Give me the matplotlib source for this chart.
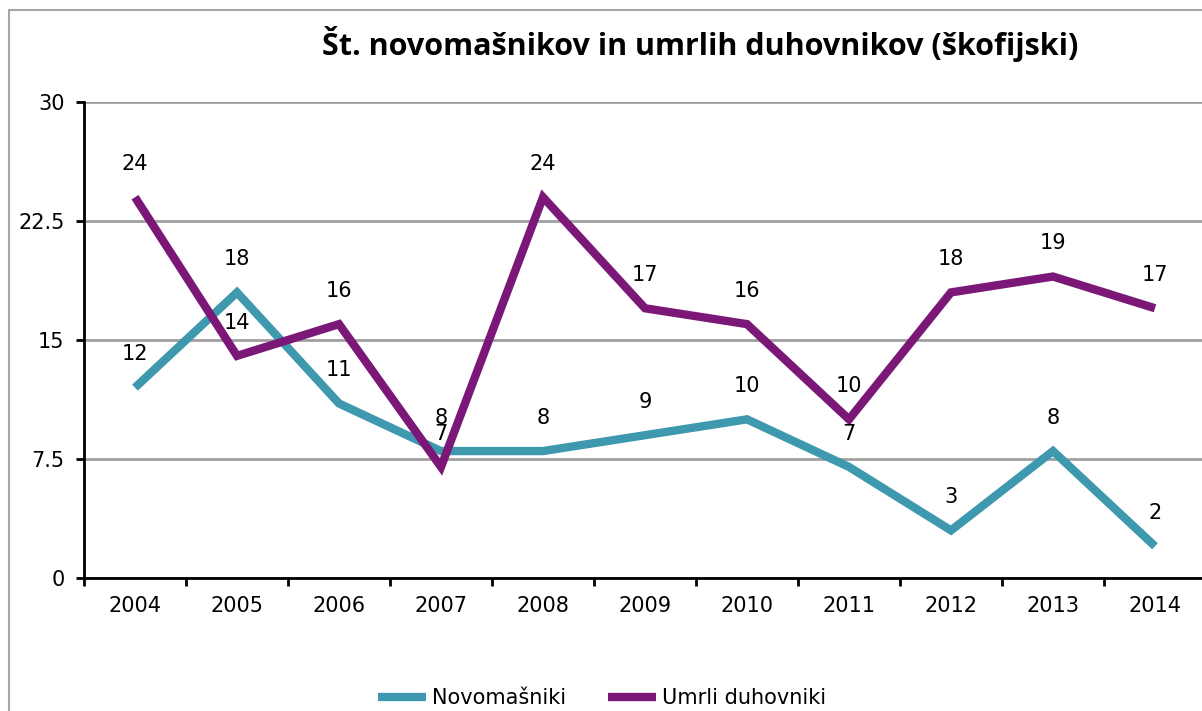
import matplotlib.pyplot as plt
import numpy as np
from matplotlib.patches import Rectangle

years = ["2004", "2005", "2006", "2007", "2008", "2009", "2010", "2011", "2012", "2013", "2014"]
novomasniki = [12, 18, 11, 8, 8, 9, 10, 7, 3, 8, 2]
umrli = [24, 14, 16, 7, 24, 17, 16, 10, 18, 19, 17]
y_ticks = [0, 7.5, 15, 22.5, 30]
y_tick_labels = ["0", "7.5", "15", "22.5", "30"]

teal = "#3e98ae"
purple = "#7b1877"

W, H = 1202, 711
fig = plt.figure(figsize=(W / 100, H / 100), dpi=100)

# outer chart border (Excel style)
fig.patches.append(Rectangle((9 / W, -0.1), 1.2, 1 - 10 / H + 0.1, transform=fig.transFigure,
                             fill=False, edgecolor="#a6a6a6", linewidth=1.5))

ax = fig.add_axes([84 / W, 1 - 578 / H, 1122 / W, 476 / H])
x = np.arange(len(years))

ax.plot(x, novomasniki, color=teal, linewidth=6, label="Novomašniki", solid_joinstyle="miter",
        solid_capstyle="butt", zorder=3)
ax.plot(x, umrli, color=purple, linewidth=6, label="Umrli duhovniki", solid_joinstyle="miter",
        solid_capstyle="butt", zorder=4)

for xi, v in zip(x, novomasniki):
    ax.annotate(str(v), (xi, v), xytext=(0, 24), textcoords="offset points",
                ha="center", va="center", fontsize=15, zorder=5)
for xi, v in zip(x, umrli):
    ax.annotate(str(v), (xi, v), xytext=(0, 24), textcoords="offset points",
                ha="center", va="center", fontsize=15, zorder=5)

ax.set_xlim(-0.5, len(years) - 0.5)
ax.set_ylim(0, 30)
ax.set_yticks(y_ticks)
ax.set_yticklabels(y_tick_labels, fontsize=15)
ax.set_xticks(x)
ax.set_xticklabels(years, fontsize=15)
ax.set_xticks(np.arange(-0.5, len(years), 1), minor=True)
ax.tick_params(axis="x", which="major", length=0, pad=13)
ax.tick_params(axis="x", which="minor", length=6, width=2, direction="out")
ax.tick_params(axis="y", length=6, width=2, direction="out", pad=8)

ax.yaxis.grid(True, color="#a0a0a0", linewidth=2)
ax.set_axisbelow(True)
for s in ["top", "right"]:
    ax.spines[s].set_visible(False)
for s in ["left", "bottom"]:
    ax.spines[s].set_linewidth(2)
ax.spines["bottom"].set_zorder(2)

fig.text(700 / W, 1 - 44 / H, "Št. novomašnikov in umrlih duhovnikov (škofijski)",
         ha="center", va="center", fontsize=22, fontweight="bold", family="Open Sans")

fig.legend(loc="center", bbox_to_anchor=(602 / W, 1 - 698 / H), ncol=2, frameon=False,
           fontsize=15, handlelength=2.3, handletextpad=0.3, columnspacing=2.0)

fig.savefig("out.png", dpi=100)
